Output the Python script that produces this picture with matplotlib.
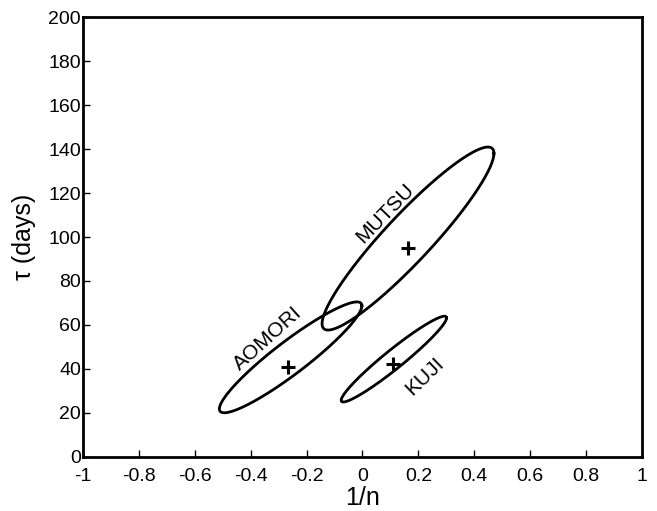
import numpy as np
import matplotlib
matplotlib.use('Agg')
import matplotlib.pyplot as plt

plt.rcParams['font.family'] = ['Liberation Sans', 'DejaVu Sans']
plt.rcParams['axes.unicode_minus'] = False

# ellipses: name, centre x, centre y, half-width (1/n), half-height (days), correlation
names = ['AOMORI', 'MUTSU', 'KUJI']
cx = [-0.257, 0.163, 0.1125]
cy = [45.3, 99.3, 44.5]
sx = [0.255, 0.3075, 0.1885]
sy = [25.2, 41.6, 19.5]
rho = [0.93, 0.93, 0.96]

# best-fit points (crosses)
best_x = [-0.265, 0.164, 0.110]
best_y = [40.8, 94.9, 42.1]

# label positions and angles
lab_x = [-0.337, 0.080, 0.222]
lab_y = [53.8, 110.8, 36.8]
lab_rot = [42, 46, 44]

xticks = [-1, -0.8, -0.6, -0.4, -0.2, 0, 0.2, 0.4, 0.6, 0.8, 1]
xticklabels = ['-1', '-0.8', '-0.6', '-0.4', '-0.2', '0', '0.2', '0.4', '0.6', '0.8', '1']
yticks = [0, 20, 40, 60, 80, 100, 120, 140, 160, 180, 200]

fig = plt.figure(figsize=(6.57, 5.11), dpi=100)
ax = fig.add_axes([0.1263, 0.1057, 0.8507, 0.861])

t = np.linspace(0, 2 * np.pi, 400)
for i in range(len(names)):
    phi = np.arccos(rho[i])
    ax.plot(cx[i] + sx[i] * np.cos(t), cy[i] + sy[i] * np.cos(t - phi),
            color='black', lw=2)
    ax.text(lab_x[i], lab_y[i], names[i], rotation=lab_rot[i], fontsize=15,
            ha='center', va='center', rotation_mode='anchor')

ax.plot(best_x, best_y, '+', color='black', ms=10, mew=2.2, ls='none')

ax.set_xlim(-1, 1)
ax.set_ylim(0, 200)
ax.set_xticks(xticks)
ax.set_xticklabels(xticklabels)
ax.set_yticks(yticks)
ax.tick_params(direction='in', length=5, width=1, labelsize=14,
               top=False, right=False)
ax.tick_params(axis='x', pad=8)
ax.tick_params(axis='y', pad=1.5)
for sp in ax.spines.values():
    sp.set_linewidth(2)
ax.set_xlabel('1/n', fontsize=18, labelpad=1)
ax.set_ylabel('τ (days)', fontsize=18, labelpad=9)

fig.savefig('out.png', dpi=100)
